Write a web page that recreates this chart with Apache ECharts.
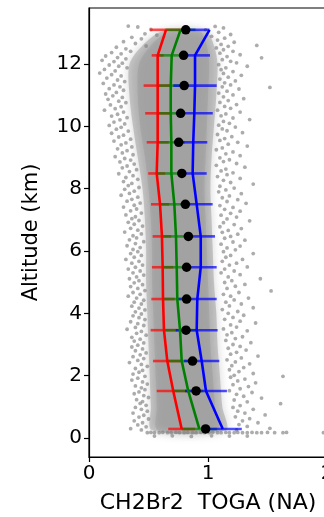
<!DOCTYPE html>
<html><head><meta charset="utf-8">
<script src="https://cdn.jsdelivr.net/npm/echarts@6/dist/echarts.min.js"></script>
<style>html,body{margin:0;padding:0;background:#fff}#c{width:324px;height:517px}</style>
</head><body><div id="c"></div>
<script>
// Profile levels (km)
const altitudes = [13.1, 12.28, 11.31, 10.42, 9.49, 8.49, 7.5, 6.47, 5.48, 4.46, 3.46, 2.47, 1.51, 0.29];
// Black dots (mean)
const meanX = [0.813, 0.795, 0.80, 0.77, 0.754, 0.78, 0.81, 0.835, 0.82, 0.82, 0.815, 0.87, 0.90, 0.98];
// Red profile and its horizontal bar half-widths
const redX = [0.647, 0.577, 0.577, 0.577, 0.577, 0.569, 0.597, 0.613, 0.619, 0.622, 0.630, 0.658, 0.708, 0.779];
const redErr = [0.134, 0.050, 0.118, 0.105, 0.092, 0.071, 0.076, 0.078, 0.090, 0.098, 0.112, 0.120, 0.139, 0.113];
// Green profile
const greenX = [0.769, 0.695, 0.687, 0.687, 0.692, 0.692, 0.717, 0.731, 0.737, 0.742, 0.765, 0.779, 0.834, 0.927];
const greenErr = [0.126, 0.110, 0.110, 0.110, 0.114, 0.123, 0.118, 0.118, 0.118, 0.120, 0.134, 0.121, 0.126, 0.148];
// Blue profile
const blueX = [1.013, 0.891, 0.891, 0.885, 0.876, 0.871, 0.905, 0.939, 0.939, 0.910, 0.905, 0.947, 0.983, 1.124];
const blueErrLo = [0.168, 0.126, 0.182, 0.155, 0.118, 0.118, 0.134, 0.120, 0.134, 0.163, 0.176, 0.148, 0.176, 0.160];
const blueErrHi = [0.000, 0.126, 0.182, 0.155, 0.118, 0.118, 0.134, 0.120, 0.134, 0.163, 0.176, 0.148, 0.176, 0.160];

// Dense part of the gray sample cloud (too many overlapping samples to list): altitude, left edge, right edge
const cloudAlt = [13.05, 12.6, 12.0, 11.0, 10.0, 9.0, 8.0, 7.0, 6.0, 5.0, 4.0, 3.0, 2.0, 1.0, 0.25];
const cloudLo  = [0.62, 0.45, 0.34, 0.34, 0.37, 0.41, 0.45, 0.47, 0.48, 0.48, 0.49, 0.50, 0.51, 0.52, 0.53];
const cloudHi  = [0.98, 1.05, 1.08, 1.07, 1.05, 1.03, 1.02, 1.03, 1.04, 1.05, 1.07, 1.08, 1.10, 1.12, 1.15];
// Densest inner part of the cloud
const innerLo  = [0.68, 0.52, 0.42, 0.41, 0.43, 0.47, 0.50, 0.52, 0.53, 0.53, 0.54, 0.55, 0.56, 0.57, 0.58];
const innerHi  = [0.93, 0.99, 1.01, 1.00, 0.99, 0.98, 0.97, 0.98, 0.99, 1.00, 1.01, 1.02, 1.04, 1.06, 1.08];

// Individual samples around the dense part: [x, altitude]
const samplesLeft = [
  [0.33,13.22],[0.41,13.19],[0.52,13.11],[0.47,12.97],[0.57,12.93],[0.36,12.86],[0.44,12.81],[0.29,12.72],[0.39,12.66],[0.48,12.58],[0.23,12.54],[0.31,12.49],[0.35,12.41],
  [0.19,12.37],[0.27,12.33],[0.14,12.26],[0.24,12.21],[0.31,12.17],[0.11,12.12],[0.21,12.08],[0.28,12.03],[0.17,11.97],[0.25,11.93],[0.32,11.88],
  [0.13,11.83],[0.22,11.78],[0.09,11.71],[0.19,11.66],[0.27,11.62],[0.15,11.55],[0.24,11.49],[0.30,11.44],[0.12,11.38],[0.21,11.33],[0.26,11.27],[0.17,11.21],[0.29,11.16],[0.23,11.09],[0.14,11.04],
  [0.20,10.98],[0.28,10.93],[0.16,10.87],[0.25,10.81],[0.31,10.76],[0.18,10.69],[0.27,10.63],[0.22,10.57],[0.13,10.52],[0.29,10.46],[0.24,10.39],[0.19,10.33],[0.32,10.28],[0.26,10.21],[0.21,10.14],[0.30,10.08],[0.17,10.03],
  [0.27,9.97],[0.23,9.91],[0.33,9.85],[0.19,9.78],[0.29,9.72],[0.25,9.66],[0.35,9.59],[0.21,9.53],[0.31,9.47],[0.27,9.41],[0.36,9.34],[0.24,9.28],[0.32,9.22],[0.28,9.15],[0.37,9.09],[0.22,9.03],
  [0.30,8.97],[0.35,8.92],[0.26,8.86],[0.38,8.79],[0.32,8.73],[0.28,8.67],[0.40,8.61],[0.34,8.55],[0.25,8.48],[0.37,8.42],[0.31,8.36],[0.41,8.30],[0.29,8.23],[0.36,8.17],[0.33,8.10],[0.42,8.04],
  [0.30,7.98],[0.38,7.92],[0.34,7.85],[0.27,7.79],[0.41,7.73],[0.36,7.66],[0.32,7.60],[0.43,7.54],[0.38,7.47],[0.29,7.41],[0.40,7.35],[0.35,7.29],[0.44,7.22],[0.31,7.16],[0.39,7.10],[0.36,7.04],
  [0.42,6.98],[0.33,6.92],[0.38,6.86],[0.45,6.80],[0.35,6.73],[0.41,6.67],[0.30,6.61],[0.44,6.55],[0.37,6.49],[0.40,6.42],[0.34,6.36],[0.46,6.30],[0.39,6.24],[0.32,6.17],[0.43,6.11],[0.37,6.05],
  [0.41,5.98],[0.35,5.92],[0.44,5.86],[0.38,5.80],[0.31,5.73],[0.42,5.67],[0.36,5.61],[0.45,5.55],[0.39,5.48],[0.33,5.42],[0.43,5.36],[0.37,5.30],[0.46,5.23],[0.40,5.17],[0.34,5.11],[0.42,5.05],
  [0.38,4.98],[0.45,4.92],[0.35,4.86],[0.41,4.80],[0.47,4.73],[0.37,4.67],[0.43,4.61],[0.33,4.55],[0.40,4.49],[0.46,4.42],[0.38,4.36],[0.44,4.30],[0.36,4.23],[0.42,4.17],[0.47,4.11],[0.39,4.05],
  [0.44,3.98],[0.37,3.92],[0.42,3.86],[0.47,3.80],[0.35,3.73],[0.41,3.67],[0.46,3.61],[0.39,3.55],[0.32,3.49],[0.44,3.42],[0.40,3.36],[0.48,3.30],[0.36,3.23],[0.43,3.17],[0.38,3.11],[0.46,3.05],
  [0.41,2.98],[0.36,2.92],[0.45,2.86],[0.39,2.80],[0.48,2.73],[0.43,2.67],[0.37,2.61],[0.46,2.55],[0.41,2.49],[0.34,2.42],[0.44,2.36],[0.49,2.30],[0.39,2.23],[0.45,2.17],[0.42,2.11],[0.37,2.05],
  [0.47,1.98],[0.41,1.92],[0.36,1.86],[0.45,1.80],[0.49,1.73],[0.39,1.67],[0.44,1.61],[0.47,1.55],[0.42,1.48],[0.38,1.42],[0.46,1.36],[0.50,1.30],[0.40,1.23],[0.45,1.17],[0.43,1.11],[0.48,1.05],
  [0.39,0.98],[0.44,0.92],[0.49,0.86],[0.37,0.80],[0.46,0.73],[0.42,0.67],[0.50,0.61],[0.38,0.55],[0.45,0.49],[0.41,0.42],[0.48,0.36],[0.35,0.30],[0.44,0.26]
];
const samplesRight = [
  [1.06,13.21],[1.13,13.16],[0.98,13.10],[1.09,13.02],[1.19,12.95],[1.03,12.89],[1.14,12.83],[1.08,12.77],[1.22,12.70],[1.11,12.63],[1.17,12.57],[1.41,12.60],[1.07,12.52],
  [1.13,12.46],[1.21,12.41],[1.10,12.35],[1.27,12.30],[1.16,12.24],[1.45,12.20],[1.12,12.14],[1.19,12.09],[1.24,12.04],[1.09,11.98],[1.33,11.93],
  [1.15,11.88],[1.11,11.82],[1.21,11.76],[1.13,11.70],[1.28,11.64],[1.17,11.58],[1.10,11.52],[1.23,11.46],[1.14,11.40],[1.52,11.25],[1.19,11.33],[1.12,11.27],[1.26,11.20],[1.16,11.13],[1.09,11.07],[1.21,11.01],
  [1.13,10.95],[1.30,10.89],[1.17,10.83],[1.10,10.77],[1.24,10.70],[1.14,10.64],[1.19,10.58],[1.08,10.52],[1.27,10.46],[1.15,10.40],[1.11,10.34],[1.21,10.27],[1.35,10.22],[1.13,10.16],[1.18,10.10],[1.09,10.04],
  [1.23,9.98],[1.12,9.92],[1.16,9.86],[1.29,9.80],[1.08,9.74],[1.20,9.67],[1.14,9.61],[1.10,9.55],[1.25,9.49],[1.17,9.43],[1.33,9.37],[1.12,9.31],[1.07,9.25],[1.21,9.18],[1.15,9.12],[1.27,9.06],
  [1.10,8.99],[1.18,8.93],[1.13,8.87],[1.24,8.81],[1.07,8.75],[1.31,8.69],[1.15,8.63],[1.11,8.57],[1.21,8.51],[1.16,8.45],[1.08,8.39],[1.27,8.33],[1.13,8.27],[1.19,8.20],[1.38,8.15],[1.10,8.08],
  [1.22,8.02],[1.15,7.96],[1.09,7.90],[1.28,7.84],[1.18,7.77],[1.12,7.71],[1.25,7.65],[1.16,7.59],[1.32,7.53],[1.10,7.46],[1.21,7.40],[1.14,7.34],[1.27,7.28],[1.19,7.21],[1.11,7.15],[1.24,7.09],
  [1.16,7.03],[1.35,6.97],[1.13,6.91],[1.22,6.85],[1.10,6.78],[1.28,6.72],[1.17,6.66],[1.12,6.60],[1.25,6.54],[1.19,6.47],[1.14,6.41],[1.31,6.35],[1.21,6.29],[1.11,6.22],[1.27,6.16],[1.16,6.10],
  [1.23,6.04],[1.13,5.98],[1.38,5.92],[1.19,5.86],[1.15,5.80],[1.29,5.73],[1.12,5.67],[1.24,5.61],[1.18,5.55],[1.33,5.49],[1.14,5.42],[1.22,5.36],[1.11,5.30],[1.27,5.24],[1.17,5.17],[1.44,5.11],
  [1.20,5.05],[1.14,4.99],[1.31,4.93],[1.23,4.87],[1.16,4.80],[1.53,4.72],[1.26,4.67],[1.13,4.61],[1.19,4.55],[1.34,4.49],[1.22,4.43],[1.15,4.36],[1.28,4.30],[1.18,4.24],[1.38,4.18],[1.12,4.12],[1.25,4.06],
  [1.17,4.00],[1.30,3.94],[1.21,3.87],[1.14,3.81],[1.27,3.75],[1.40,3.69],[1.19,3.63],[1.24,3.56],[1.13,3.50],[1.33,3.44],[1.20,3.38],[1.16,3.31],[1.29,3.25],[1.23,3.19],[1.15,3.13],[1.36,3.06],
  [1.21,3.00],[1.27,2.94],[1.17,2.88],[1.32,2.82],[1.24,2.75],[1.19,2.69],[1.42,2.63],[1.28,2.57],[1.16,2.51],[1.23,2.44],[1.35,2.38],[1.20,2.32],[1.30,2.26],[1.18,2.19],[1.26,2.13],[1.38,2.07],
  [1.22,2.01],[1.63,1.98],[1.19,1.95],[1.31,1.89],[1.25,1.83],[1.40,1.77],[1.21,1.71],[1.34,1.65],[1.27,1.58],[1.18,1.52],[1.37,1.46],[1.24,1.40],[1.30,1.34],[1.45,1.28],[1.22,1.22],[1.33,1.16],[1.61,1.10],
  [1.27,1.04],[1.21,0.98],[1.38,0.92],[1.25,0.86],[1.31,0.80],[1.48,0.74],[1.23,0.68],[1.35,0.62],[1.29,0.55],[1.42,0.49],[1.26,0.43],[1.33,0.37],[1.52,0.31],[1.24,0.26]
];
// Lowest samples (near the surface): [x, altitude]
const samplesSurface = [
  [0.49,0.17],[0.52,0.18],[0.55,0.17],[0.59,0.17],[0.62,0.18],[0.66,0.17],[0.69,0.17],[0.73,0.18],[0.76,0.17],[0.80,0.17],[0.83,0.18],[0.87,0.17],
  [0.90,0.17],[0.94,0.18],[0.97,0.17],[1.01,0.17],[1.04,0.18],[1.08,0.17],[1.11,0.17],[1.15,0.18],[1.18,0.17],[1.22,0.17],[1.25,0.18],[1.29,0.17],
  [1.33,0.17],[1.37,0.18],[1.41,0.17],[1.45,0.17],[1.50,0.18],[1.56,0.17],[1.63,0.17],[1.66,0.18],[1.97,0.17],
  [0.55,0.06],[0.70,0.07],[0.86,0.05],[1.03,0.07],[1.18,0.06],[1.33,0.06]
];

const yTicks = [0, 2, 4, 6, 8, 10, 12];
const xTicks = [0, 1, 2];

function bandSeries(alt, lo, hi, fill, blur) {
  return {
    type: 'custom', z: 1, data: [0], silent: true,
    renderItem: (p, api) => {
      const pts = [];
      for (let i = 0; i < alt.length; i++) pts.push(api.coord([lo[i], alt[i]]));
      for (let i = alt.length - 1; i >= 0; i--) pts.push(api.coord([hi[i], alt[i]]));
      return { type: 'polygon', shape: { points: pts, smooth: 0.3 },
        style: { fill: fill, shadowBlur: blur, shadowColor: 'rgba(128,128,128,0.9)' } };
    }
  };
}
function barSeries(xs, lo, hi, color) {
  return {
    type: 'custom', z: 3,
    data: altitudes.map((a, i) => [xs[i] - lo[i], xs[i] + hi[i], a]),
    renderItem: (p, api) => {
      const s = api.coord([api.value(0), api.value(2)]);
      const e = api.coord([api.value(1), api.value(2)]);
      return { type: 'line', shape: { x1: s[0], y1: s[1], x2: e[0], y2: e[1] },
        style: { stroke: color, lineWidth: 2.6, opacity: 0.7 } };
    }
  };
}
function lineSeries(xs, color) {
  return {
    type: 'line', z: 4, symbol: 'none',
    data: altitudes.map((a, i) => [xs[i], a]),
    lineStyle: { color: color, width: 2.6 }
  };
}

const chart = echarts.init(document.getElementById('c'), null, { renderer: 'canvas' });
const font = 'DejaVu Sans';
chart.setOption({
  animation: false,
  backgroundColor: '#fff',
  grid: { left: 89, top: 8, width: 238, height: 449, show: true, borderColor: '#000', borderWidth: 1.2,
          backgroundColor: 'transparent', containLabel: false, outerBoundsMode: 'none' },
  xAxis: {
    type: 'value', min: xTicks[0], max: xTicks[xTicks.length - 1], interval: 1,
    axisLine: { show: true, onZero: false, lineStyle: { color: '#000', width: 1.2 } },
    axisTick: { show: true, inside: false, length: 5, lineStyle: { color: '#000', width: 1.2 } },
    axisLabel: { color: '#000', fontFamily: font, fontSize: 20, margin: 7 },
    splitLine: { show: false },
    name: 'CH2Br2  TOGA (NA)', nameLocation: 'middle', nameGap: 35,
    nameTextStyle: { color: '#000', fontFamily: font, fontSize: 22 }
  },
  yAxis: {
    type: 'value', min: -0.61, max: 13.8,
    axisLine: { show: true, onZero: false, lineStyle: { color: '#000', width: 1.2 } },
    axisTick: { show: true, inside: false, length: 5, customValues: yTicks, lineStyle: { color: '#000', width: 1.2 } },
    axisLabel: { color: '#000', fontFamily: font, fontSize: 20, margin: 7, customValues: yTicks },
    splitLine: { show: false },
    name: 'Altitude (km)', nameLocation: 'middle', nameGap: 47,
    nameTextStyle: { color: '#000', fontFamily: font, fontSize: 21 }
  },
  series: [
    bandSeries(cloudAlt, cloudLo, cloudHi, 'rgba(128,128,128,0.36)', 10),
    bandSeries(cloudAlt, innerLo, innerHi, 'rgba(128,128,128,0.22)', 8),
    {
      type: 'scatter', z: 2, data: samplesLeft.concat(samplesRight, samplesSurface), symbolSize: 3.8,
      itemStyle: { color: '#808080', opacity: 0.65 }
    },
    barSeries(redX, redErr, redErr, '#ff0000'),
    barSeries(greenX, greenErr, greenErr, '#008000'),
    barSeries(blueX, blueErrLo, blueErrHi, '#0000ff'),
    lineSeries(redX, '#ff0000'),
    lineSeries(greenX, '#008000'),
    lineSeries(blueX, '#0000ff'),
    {
      type: 'scatter', z: 6, data: altitudes.map((a, i) => [meanX[i], a]), symbolSize: 9.5,
      itemStyle: { color: '#000', opacity: 1 }
    }
  ]
});
</script></body></html>
